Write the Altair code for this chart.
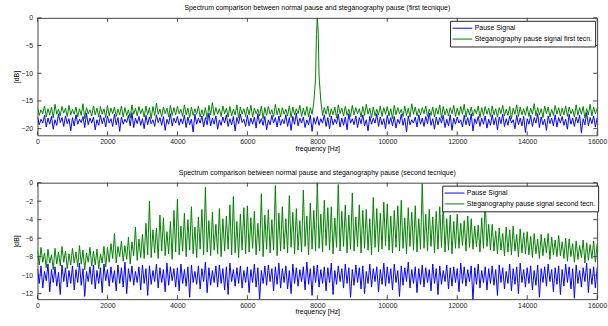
import altair as alt
import pandas as pd

# ---------------- data ----------------
# each spectrum is kept as its local maxima (on the 100 Hz grid) and its
# local minima (half-way between), which is what the dense trace swings between
freqs_hi = list(range(0, 16001, 100))
freqs_lo = list(range(50, 16000, 100))

pause_first_hi = [
    -17.9, -18.3, -17.6, -18.1, -17.8, -18.4, -17.3, -18.0, -17.7, -18.2,
    -18.0, -17.5, -18.3, -17.8, -17.2, -18.1, -17.9, -18.4, -17.6, -18.0,
    -17.7, -18.2, -17.4, -18.0, -17.9, -18.3, -17.6, -17.1, -18.1, -17.8,
    -18.2, -17.6, -17.9, -18.4, -17.5, -18.0, -17.8, -18.3, -17.3, -18.1,
    -17.8, -18.2, -17.6, -17.9, -18.3, -17.4, -18.1, -17.7, -18.0, -17.2,
    -18.1, -17.7, -18.4, -17.9, -17.5, -18.2, -17.8, -18.0, -17.4, -18.3,
    -17.6, -18.1, -17.9, -17.3, -18.2, -17.8, -18.4, -17.6, -18.0, -17.7,
    -18.3, -17.5, -18.0, -17.8, -17.2, -18.1, -17.9, -18.4, -17.6, -18.0,
    -17.8, -18.2, -17.5, -18.0, -17.7, -18.3, -17.4, -18.1, -17.9, -17.3,
    -18.2, -17.7, -18.0, -17.5, -18.4, -17.8, -18.1, -17.3, -17.9, -18.2,
    -17.6, -18.0, -17.8, -18.3, -17.4, -18.1, -17.7, -18.4, -17.9, -17.5,
    -18.1, -17.8, -17.2, -18.2, -17.9, -18.0, -17.6, -18.3, -17.5, -18.1,
    -17.9, -18.4, -17.6, -18.0, -17.3, -18.2, -17.8, -18.1, -17.7, -18.3,
    -17.5, -18.0, -17.9, -17.4, -18.2, -17.7, -18.4, -17.6, -18.1, -17.8,
    -18.2, -17.6, -18.0, -17.3, -17.9, -18.3, -17.7, -18.1, -17.5, -18.0,
    -17.8, -18.3, -17.4, -18.1, -17.9, -17.6, -18.2, -17.1, -18.0, -17.7,
    -18.0,
]
pause_first_lo = [
    -19.3, -19.0, -19.7, -19.2, -20.1, -19.4, -18.9, -19.6, -19.1, -20.4,
    -19.5, -19.2, -18.9, -19.8, -19.3, -19.0, -20.2, -19.4, -19.1, -19.7,
    -19.0, -19.6, -19.3, -20.5, -19.2, -18.9, -19.5, -19.8, -19.1, -19.4,
    -20.0, -19.3, -19.1, -19.6, -18.9, -19.4, -20.3, -19.2, -19.5, -19.0,
    -19.4, -19.1, -19.8, -19.3, -20.6, -19.2, -19.0, -19.7, -19.3, -19.5,
    -19.2, -20.1, -19.4, -19.0, -19.6, -19.3, -20.4, -19.1, -18.9, -19.6,
    -19.5, -19.2, -19.9, -19.1, -19.4, -20.2, -19.3, -19.0, -19.7, -19.4,
    -19.1, -19.6, -20.3, -19.2, -19.5, -19.0, -19.8, -19.3, -20.5, -19.2,
    -19.4, -19.0, -19.6, -20.0, -19.3, -19.1, -19.7, -19.4, -20.2, -19.0,
    -19.3, -19.8, -19.1, -19.5, -20.4, -19.2, -19.0, -19.6, -19.3, -20.0,
    -19.2, -19.5, -19.9, -19.1, -19.4, -20.6, -19.3, -19.0, -19.7, -19.2,
    -19.6, -19.1, -19.4, -20.1, -19.3, -19.0, -19.8, -19.5, -20.3, -19.2,
    -19.0, -19.7, -19.3, -19.5, -20.4, -19.1, -19.6, -19.2, -19.9, -19.4,
    -19.3, -20.2, -19.1, -19.6, -19.4, -19.0, -20.0, -19.3, -19.5, -20.7,
    -19.2, -19.6, -19.0, -19.8, -19.3, -20.3, -19.1, -19.5, -19.7, -19.0,
    -19.4, -20.1, -19.2, -19.6, -19.0, -20.8, -19.3, -19.5, -19.1, -19.7,
]

steg_first_hi = [
    -16.2, -16.6, -15.9, -16.4, -16.1, -15.6, -16.5, -16.0, -16.3, -15.8,
    -16.5, -16.1, -16.4, -15.5, -16.2, -16.6, -15.9, -16.3, -16.0, -16.4,
    -15.8, -16.3, -16.1, -16.5, -15.9, -16.2, -16.6, -15.7, -16.3, -16.0,
    -16.4, -15.9, -16.2, -16.0, -15.4, -16.5, -16.1, -16.3, -15.8, -16.2,
    -16.0, -16.5, -15.7, -16.3, -16.1, -16.4, -15.9, -16.6, -16.2, -15.8,
    -15.3, -16.2, -16.4, -15.9, -16.3, -16.0, -16.5, -15.7, -16.1, -16.4,
    -16.1, -15.8, -16.3, -16.5, -15.9, -16.2, -16.0, -16.6, -15.6, -16.3,
    -16.2, -16.5, -15.9, -16.1, -16.4, -15.8, -16.3, -16.0, -16.2, -15.2,
    0.0, -15.0, -16.2, -15.9, -16.4, -16.1, -15.7, -16.3, -16.0, -16.5,
    -15.8, -16.2, -16.4, -16.0, -15.6, -16.3, -16.1, -16.5, -15.9, -16.2,
    -16.0, -16.4, -15.8, -16.2, -16.5, -15.9, -16.3, -15.5, -16.1, -16.4,
    -16.2, -15.9, -16.5, -16.1, -16.3, -15.7, -16.0, -16.4, -16.2, -15.8,
    -16.3, -16.0, -15.6, -16.4, -16.1, -16.5, -15.9, -16.2, -16.0, -16.3,
    -15.9, -16.4, -16.2, -15.8, -16.5, -16.0, -16.3, -15.7, -16.1, -16.4,
    -16.0, -16.3, -15.5, -16.2, -16.4, -15.9, -16.1, -16.5, -15.8, -16.2,
    -16.3, -15.9, -16.1, -16.5, -15.7, -16.2, -16.0, -16.4, -15.6, -16.1,
    -16.3,
]
steg_first_lo = [
    -17.6, -17.3, -17.9, -17.5, -18.1, -17.4, -17.7, -17.2, -17.8, -17.5,
    -17.4, -17.9, -17.6, -18.2, -17.3, -17.7, -17.5, -17.9, -17.4, -18.0,
    -17.7, -17.3, -17.8, -17.5, -17.9, -17.6, -18.1, -17.4, -17.7, -17.3,
    -17.9, -17.5, -18.2, -17.6, -17.4, -17.8, -17.3, -17.9, -17.6, -17.5,
    -17.3, -17.8, -17.5, -18.0, -17.6, -17.4, -17.9, -17.7, -18.3, -17.5,
    -17.6, -17.4, -17.8, -17.3, -17.9, -17.7, -17.5, -18.1, -17.4, -17.8,
    -17.5, -17.9, -17.3, -17.7, -18.2, -17.6, -17.4, -17.8, -17.5, -17.9,
    -17.4, -17.7, -18.0, -17.5, -17.3, -17.8, -17.6, -17.9, -17.4, -11.0,
    -10.5, -17.6, -17.4, -17.9, -17.5, -18.1, -17.3, -17.7, -17.6, -17.8,
    -17.5, -17.3, -17.9, -17.6, -17.4, -18.0, -17.7, -17.5, -17.8, -17.4,
    -17.7, -18.2, -17.5, -17.3, -17.8, -17.6, -17.9, -17.4, -17.7, -17.5,
    -17.3, -17.8, -17.6, -17.9, -17.4, -18.1, -17.5, -17.7, -17.3, -17.8,
    -17.6, -17.4, -17.9, -17.5, -17.7, -17.3, -18.0, -17.6, -17.4, -17.8,
    -17.5, -17.9, -17.3, -17.7, -17.6, -18.2, -17.4, -17.8, -17.5, -17.6,
    -17.8, -17.4, -17.7, -17.5, -18.0, -17.3, -17.9, -17.6, -17.4, -17.7,
    -17.5, -17.8, -17.3, -17.9, -17.6, -17.4, -18.1, -17.5, -17.7, -17.3,
]
# extra samples right at the 8 kHz tone of the first technique
peak_freqs = [7975, 8025]
peak_db = [-3.0, -2.5]

pause_second_hi = [
    -9.3, -9.0, -9.6, -8.8, -9.4, -9.1, -9.7, -8.9, -9.2, -9.5,
    -9.0, -9.4, -8.7, -9.3, -9.6, -9.1, -8.9, -9.5, -9.2, -8.8,
    -9.4, -9.1, -9.5, -8.9, -9.2, -8.6, -9.3, -9.0, -9.6, -9.1,
    -8.9, -9.3, -9.0, -9.5, -8.8, -9.2, -9.4, -8.7, -9.1, -9.3,
    -9.2, -8.8, -9.4, -9.1, -8.9, -9.6, -9.0, -9.3, -8.6, -9.2,
    -9.5, -9.0, -8.9, -9.3, -9.1, -8.7, -9.4, -9.2, -9.0, -9.5,
    -9.1, -9.4, -8.8, -9.2, -9.5, -9.0, -8.9, -9.3, -9.1, -8.7,
    -9.3, -9.0, -9.5, -8.8, -9.2, -9.4, -9.1, -8.6, -9.3, -9.0,
    -8.9, -9.4, -9.1, -9.2, -8.7, -9.5, -9.0, -9.3, -8.8, -9.2,
    -9.4, -8.9, -9.2, -9.0, -9.6, -8.8, -9.3, -9.1, -9.4, -8.7,
    -9.1, -9.3, -8.8, -9.5, -9.0, -9.2, -8.6, -9.4, -9.1, -9.3,
    -8.9, -9.2, -9.4, -8.8, -9.3, -9.0, -9.5, -8.9, -9.2, -9.1,
    -9.3, -8.7, -9.1, -9.4, -9.0, -9.2, -8.8, -9.5, -9.1, -9.3,
    -9.0, -9.4, -8.9, -9.2, -9.6, -8.8, -9.3, -9.1, -8.7, -9.4,
    -9.2, -9.0, -9.5, -8.9, -9.3, -9.1, -8.8, -9.4, -9.2, -9.0,
    -9.4, -8.8, -9.1, -9.3, -8.9, -9.5, -9.2, -8.7, -9.3, -9.1,
    -9.2,
]
pause_second_lo = [
    -10.9, -11.4, -10.6, -11.8, -10.8, -11.2, -12.1, -10.7, -11.3, -10.9,
    -11.6, -10.8, -11.1, -12.3, -10.7, -11.0, -11.5, -10.9, -11.9, -10.6,
    -11.2, -10.8, -11.7, -10.9, -11.3, -12.0, -10.7, -11.1, -10.8, -11.6,
    -10.9, -12.2, -11.0, -10.7, -11.4, -10.8, -11.8, -11.1, -10.6, -11.3,
    -11.7, -10.9, -11.2, -12.4, -10.8, -11.0, -11.5, -10.7, -11.9, -11.1,
    -10.8, -11.3, -10.9, -11.6, -12.1, -10.7, -11.2, -10.9, -11.4, -10.8,
    -11.9, -10.8, -11.3, -12.6, -10.9, -11.1, -10.7, -11.7, -11.0, -11.4,
    -10.8, -11.5, -12.0, -10.9, -11.2, -10.7, -11.6, -11.0, -12.2, -10.8,
    -11.3, -10.9, -11.7, -10.8, -12.1, -11.0, -10.7, -11.4, -10.9, -12.4,
    -11.1, -10.8, -11.5, -12.0, -10.9, -11.3, -10.7, -11.8, -11.0, -11.2,
    -10.9, -11.6, -10.8, -12.3, -11.1, -10.7, -11.4, -10.9, -11.9, -11.0,
    -11.3, -10.8, -11.7, -10.9, -12.1, -11.0, -10.7, -11.5, -11.2, -10.8,
    -11.8, -10.9, -11.2, -10.7, -12.7, -11.0, -11.4, -10.8, -11.6, -10.9,
    -11.1, -12.2, -10.8, -11.5, -10.9, -11.7, -11.0, -12.0, -10.8, -11.3,
    -10.9, -11.6, -11.1, -12.4, -10.8, -11.2, -10.7, -11.8, -11.0, -12.1,
    -11.2, -10.8, -11.5, -12.5, -10.9, -11.3, -10.7, -11.9, -11.0, -11.4,
]

steg_second_hi = [
    -7.3, -7.0, -7.6, -7.2, -7.8, -7.1, -7.5, -6.9, -7.4, -7.7,
    -7.1, -7.5, -6.8, -7.3, -7.6, -7.0, -7.4, -7.2, -7.7, -6.9,
    -7.0, -6.6, -5.5, -6.9, -6.3, -6.8, -5.9, -6.4, -4.8, -6.1,
    -5.6, -4.4, -2.0, -5.1, -4.9, -3.5, -3.8, -5.3, -4.2, -3.0,
    -1.8, -4.7, -3.3, -4.0, -2.6, -4.8, -3.7, -2.9, -0.5, -4.1,
    -3.2, -4.5, -2.8, -3.9, -3.6, -2.4, -1.5, -4.2, -3.4, -2.7,
    -2.5, -3.8, -3.1, -4.4, -1.2, -3.5, -2.9, -4.0, -0.3, -3.3,
    -2.6, -3.9, -1.4, -3.2, -2.8, -4.1, -0.8, -3.6, -2.2, -3.0,
    0.0, -3.4, -1.9, -2.7, -2.6, -3.8, -0.2, -3.1, -2.4, -3.5,
    -1.1, -3.7, -2.4, -3.0, -2.9, -3.9, -1.6, -2.8, -3.3, -2.1,
    -2.3, -3.6, -3.0, -2.5, -1.9, -3.8, -2.7, -3.2, -2.5, -3.9,
    -0.1, -3.4, -2.9, -3.7, -3.1, -2.6, -2.2, -3.9, -3.5, -4.2,
    -3.4, -4.4, -4.1, -3.6, -3.9, -4.7, -4.6, -3.8, -1.8, -4.5,
    -4.5, -5.2, -4.9, -5.5, -4.8, -5.1, -4.7, -5.6, -5.0, -5.4,
    -5.3, -5.8, -5.5, -6.1, -5.6, -6.0, -5.5, -5.9, -6.2, -5.7,
    -6.4, -6.0, -6.1, -6.6, -6.3, -6.8, -6.2, -6.5, -6.7, -6.3,
    -6.6,
]
steg_second_lo = [
    -8.9, -8.6, -9.2, -8.7, -9.4, -8.8, -9.0, -8.6, -9.3, -8.9,
    -8.7, -9.1, -8.8, -9.4, -8.6, -9.0, -8.9, -9.3, -8.7, -9.1,
    -8.6, -8.2, -8.7, -8.0, -8.5, -8.3, -8.8, -7.9, -8.4, -8.1,
    -8.2, -7.8, -8.1, -7.6, -8.2, -7.4, -7.9, -7.7, -8.3, -7.5,
    -7.8, -7.4, -8.0, -7.3, -7.7, -8.1, -7.2, -7.8, -7.5, -7.9,
    -7.3, -7.7, -8.0, -7.4, -7.2, -7.8, -7.6, -8.1, -7.3, -7.7,
    -7.5, -7.1, -7.8, -7.4, -8.0, -7.2, -7.6, -7.3, -7.9, -7.4,
    -7.2, -7.6, -7.0, -7.7, -7.3, -7.5, -6.9, -7.8, -7.2, -7.4,
    -7.1, -7.5, -6.8, -7.3, -7.7, -7.0, -7.4, -6.9, -7.6, -7.2,
    -7.4, -6.9, -7.6, -7.1, -7.3, -7.8, -7.0, -7.5, -7.2, -6.8,
    -7.3, -7.6, -7.0, -7.4, -7.1, -7.7, -6.9, -7.3, -7.5, -7.2,
    -7.1, -7.4, -6.9, -7.6, -7.2, -7.0, -7.5, -7.3, -7.7, -7.1,
    -7.1, -6.8, -7.4, -7.0, -7.2, -6.9, -7.5, -7.1, -6.9, -7.3,
    -7.4, -7.7, -7.3, -7.9, -7.5, -7.8, -7.4, -8.0, -7.6, -7.7,
    -7.8, -8.1, -7.7, -8.2, -7.9, -7.6, -8.3, -7.8, -8.0, -7.9,
    -8.2, -8.5, -8.0, -8.6, -8.3, -8.1, -8.7, -8.4, -8.2, -8.6,
]

x_ticks = [0, 2000, 4000, 6000, 8000, 10000, 12000, 14000, 16000]
y_ticks_first = [0, -5, -10, -15, -20]
y_ticks_second = [0, -2, -4, -6, -8, -10, -12]

title_first = "Spectrum comparison between normal pause and steganography pause (first tecnique)"
title_second = "Spectrum comparison between normal pause and steganography pause (second tecnique)"
label_pause = "Pause Signal"
label_first = "Steganography pause signal first tecn."
label_second = "Steganography pause signal second tecn."

FONT = "Liberation Sans"
W = 567
FRAME = "#444444"


def series_frame(f, db, name):
    df = pd.DataFrame({"f": f, "db": db, "s": name})
    return df.sort_values("f").reset_index(drop=True).reset_index()


def panel(pause_f, pause, steg_f, steg, steg_label, title, ydom, yticks, h, legend_x, legend_y):
    df_p = series_frame(pause_f, pause, label_pause)
    df_s = series_frame(steg_f, steg, steg_label)
    color = alt.Color(
        "s:N",
        scale=alt.Scale(domain=[label_pause, steg_label], range=["#0000ff", "#008000"]),
        legend=alt.Legend(
            title=None, orient="none", legendX=legend_x, legendY=legend_y,
            fillColor="white", strokeColor="#222222", padding=2,
            labelFont=FONT, labelFontSize=7, labelColor="black", labelLimit=400,
            symbolType="stroke", symbolSize=400, symbolStrokeWidth=1,
            clipHeight=11, rowPadding=0, labelOffset=2,
        ),
    )
    x = alt.X(
        "f:Q", scale=alt.Scale(domain=[0, 16000], nice=False, zero=False),
        axis=alt.Axis(values=x_ticks, title="frequency [Hz]", format="d", grid=False,
                      ticks=False, tickSize=0, domain=False, labelPadding=2,
                      titlePadding=0, labelFlush=False, labelOverlap=False),
    )
    y = alt.Y(
        "db:Q", scale=alt.Scale(domain=ydom, nice=False, zero=False),
        axis=alt.Axis(values=yticks, title="[dB]", grid=False, ticks=False, tickSize=0,
                      domain=False, labelPadding=5, titlePadding=1, labelOverlap=False,
                      labelFlush=False),
    )
    order = alt.Order("index:Q")
    lp = alt.Chart(df_p).mark_line(strokeWidth=1.0, clip=True).encode(
        x=x, y=y, color=color, order=order)
    ls = alt.Chart(df_s).mark_line(strokeWidth=1.0, clip=True).encode(
        x=x, y=y, color=color, order=order)

    dx = pd.DataFrame({"f": x_ticks})
    dy = pd.DataFrame({"db": yticks})
    tb = alt.Chart(dx).mark_rule(color=FRAME, strokeWidth=1).encode(
        x=x, y=alt.value(h - 4), y2=alt.value(h))
    tt = alt.Chart(dx).mark_rule(color=FRAME, strokeWidth=1).encode(
        x=x, y=alt.value(0), y2=alt.value(4))
    tl = alt.Chart(dy).mark_rule(color=FRAME, strokeWidth=1).encode(
        y=y, x=alt.value(0), x2=alt.value(4))
    tr = alt.Chart(dy).mark_rule(color=FRAME, strokeWidth=1).encode(
        y=y, x=alt.value(W - 4), x2=alt.value(W))

    return alt.layer(lp, ls, tb, tt, tl, tr).properties(
        width=W, height=h,
        title=alt.Title(title, font=FONT, fontSize=7, fontWeight="normal",
                        color="black", offset=3, anchor="middle"),
    )


top = panel(freqs_hi + freqs_lo, pause_first_hi + pause_first_lo,
            freqs_hi + freqs_lo + peak_freqs, steg_first_hi + steg_first_lo + peak_db,
            label_first, title_first, [-21.2, 0], y_ticks_first, 119, 418, 3)
bottom = panel(freqs_hi + freqs_lo, pause_second_hi + pause_second_lo,
               freqs_hi + freqs_lo, steg_second_hi + steg_second_lo,
               label_second, title_second, [-12.6, 0], y_ticks_second, 118, 410, 3)

chart = (
    alt.vconcat(top, bottom, spacing=16)
    .resolve_scale(color="independent")
    .resolve_legend(color="independent")
    .properties(padding={"left": 12, "top": 1, "right": 0, "bottom": 0}, background="white")
    .configure_view(stroke=FRAME, strokeWidth=1)
    .configure_axis(labelFont=FONT, labelFontSize=7, labelColor="#222222",
                    titleFont=FONT, titleFontSize=7, titleFontWeight="normal",
                    titleColor="black")
)

chart.save("out.html", embed_options={"renderer": "svg", "actions": False})
